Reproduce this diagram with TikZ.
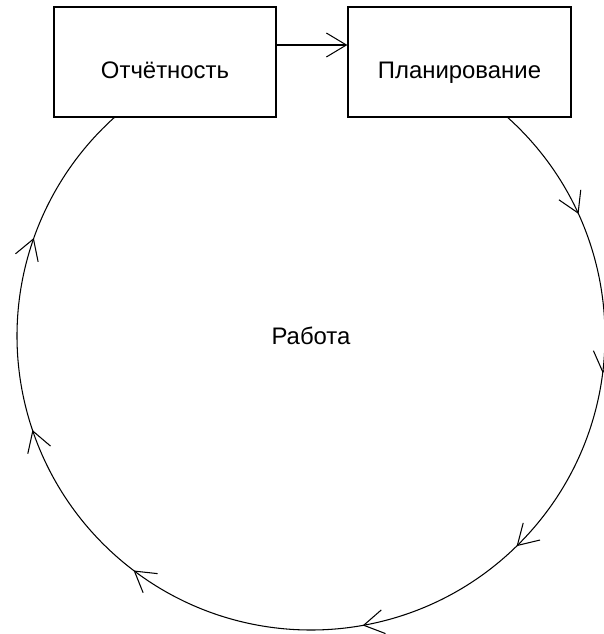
\documentclass[tikz,border=0pt]{standalone}
\usepackage{fontspec}
\setmainfont{Liberation Sans}
\usetikzlibrary{arrows.meta,decorations.markings}

\tikzset{
	stagebox/.style={draw, line width=.7pt, fill=white, minimum width=4.44cm, minimum height=2.2cm, text height=20pt, text depth=1pt},
	barb/.tip={Straight Barb[length=4mm,width=4.8mm]},
	cycleline/.style={line width=.6pt, postaction={decorate}, decoration={markings,
		mark=at position .085 with {\arrow{barb}},
		mark=at position .2 with {\arrow{barb}},
		mark=at position .339 with {\arrow{barb}},
		mark=at position .463 with {\arrow{barb}},
		mark=at position .634 with {\arrow{barb}},
		mark=at position .758 with {\arrow{barb}},
		mark=at position .896 with {\arrow{barb}}}}
}

\begin{document}
\begin{tikzpicture}[font=\fontsize{13.6}{16}\selectfont]
	\useasboundingbox (0,0) rectangle (12.06,-12.68);
	% the two stages on top
	\node[stagebox] (report) at (3.30,-1.24) {Отчётность};
	\node[stagebox, minimum width=4.46cm] (plan) at (9.19,-1.24) {Планирование};
	\node (work) at (6.22,-6.72) {Работа};
	\draw[line width=.6pt, -barb] ([yshift=.34cm]report.east) -- ([yshift=.34cm]plan.west);
	% the loop round the work
	\draw[cycleline] ([shift={(48:5.88)}]work.center) arc[start angle=48, end angle=-228.2, radius=5.88];
\end{tikzpicture}
\end{document}
